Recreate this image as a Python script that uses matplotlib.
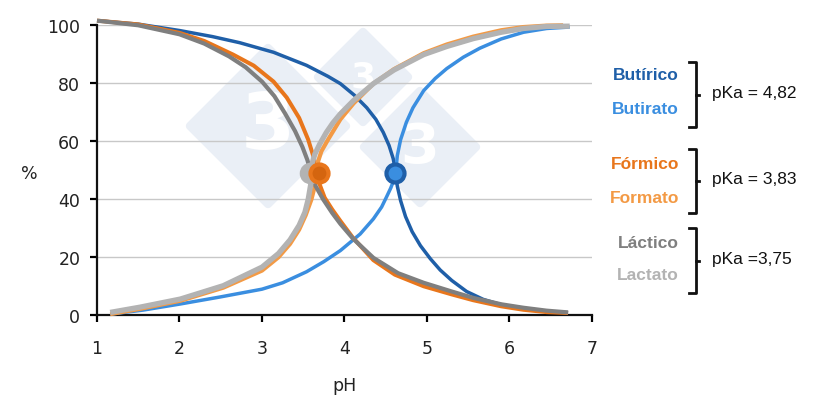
import matplotlib
matplotlib.use("Agg")
import matplotlib.pyplot as plt
from matplotlib.patches import Polygon

# curves (pH, %)
butirico_ph = [1.0, 1.5, 2.0, 2.4, 2.73, 3.14, 3.54, 3.8, 3.95, 4.12, 4.27, 4.38, 4.47,
               4.54, 4.59, 4.61, 4.62, 4.64, 4.68, 4.74, 4.82, 4.92, 5.04, 5.16, 5.3,
               5.48, 5.68, 5.88, 6.1, 6.29, 6.5, 6.71]
butirico_pct = [101.5, 100.3, 98.1, 96.0, 93.9, 90.6, 86.1, 82.3, 79.8, 75.8, 71.5, 67.5, 63.0,
                58.5, 54.0, 51.0, 49.0, 44.5, 39.5, 34.0, 28.8, 24.0, 19.5, 15.6, 12.0,
                8.2, 5.5, 3.8, 2.5, 1.8, 1.2, 0.9]

butirato_ph = [1.16, 1.56, 2.01, 2.49, 3.0, 3.25, 3.54, 3.75, 3.95, 4.19, 4.35, 4.45, 4.51,
               4.56, 4.59, 4.61, 4.62, 4.64, 4.68, 4.75, 4.83, 4.96, 5.1, 5.24, 5.44,
               5.64, 5.9, 6.17, 6.45, 6.73]
butirato_pct = [0.4, 1.8, 3.9, 6.3, 9.0, 11.2, 15.0, 18.5, 22.3, 28.0, 33.2, 37.3, 40.8,
                43.8, 46.0, 47.8, 49.0, 55.0, 60.5, 66.5, 71.5, 77.4, 81.6, 85.0, 88.9,
                92.0, 95.2, 97.5, 98.8, 99.3]

formico_ph = [1.0, 1.5, 2.0, 2.3, 2.65, 2.9, 3.14, 3.3, 3.45, 3.56, 3.62, 3.66, 3.67,
              3.7, 3.76, 3.85, 3.95, 4.1, 4.35, 4.61, 4.96, 5.3, 5.56, 5.9, 6.17, 6.45, 6.71]
formico_pct = [101.5, 100.2, 97.3, 94.5, 89.8, 86.0, 80.5, 75.0, 68.0, 60.5, 55.0, 50.5, 49.0,
               45.0, 40.5, 36.5, 32.5, 26.8, 19.0, 14.0, 10.0, 7.2, 5.2, 3.1, 1.9, 1.1, 0.8]

formato_ph = [1.16, 1.52, 2.01, 2.53, 3.0, 3.2, 3.34, 3.45, 3.53, 3.6, 3.64, 3.67,
              3.68, 3.72, 3.8, 3.95, 4.11, 4.35, 4.6, 4.96, 5.24, 5.56, 5.9, 6.17, 6.45, 6.65]
formato_pct = [0.4, 2.2, 5.0, 9.5, 15.4, 20.0, 24.6, 29.5, 34.5, 40.0, 44.5, 49.0,
               53.0, 56.5, 60.5, 67.5, 73.0, 79.8, 84.8, 90.3, 93.3, 96.0, 98.2, 99.3, 99.8, 99.9]

lactico_ph = [1.0, 1.5, 2.0, 2.3, 2.6, 2.8, 3.0, 3.15, 3.28, 3.4, 3.49, 3.55, 3.59, 3.6,
              3.65, 3.74, 3.85, 3.95, 4.1, 4.35, 4.65, 4.96, 5.3, 5.56, 5.9, 6.17, 6.45, 6.71]
lactico_pct = [101.5, 99.9, 96.8, 93.6, 89.2, 85.5, 80.5, 75.5, 69.5, 63.5, 58.0, 53.5, 49.5, 49.0,
               44.5, 40.0, 35.3, 31.5, 26.5, 19.8, 14.5, 11.2, 8.2, 6.0, 3.8, 2.6, 1.6, 1.0]

lactato_ph = [1.16, 1.52, 2.01, 2.53, 3.0, 3.2, 3.34, 3.45, 3.52, 3.56, 3.59, 3.6,
              3.61, 3.64, 3.7, 3.78, 3.86, 3.95, 4.11, 4.35, 4.6, 4.96, 5.24, 5.56, 5.9,
              6.17, 6.45, 6.73]
lactato_pct = [1.0, 2.8, 5.6, 10.2, 16.6, 21.3, 26.0, 31.0, 35.5, 40.0, 45.0, 49.0,
               52.5, 55.5, 59.0, 63.0, 66.3, 69.4, 74.0, 79.8, 84.5, 89.8, 92.6, 95.3, 97.5,
               98.8, 99.5, 99.6]

# pKa points (pH, %)
pka_ph = [3.58, 3.69, 4.61]
pka_pct = [49, 49, 49]

groups = [("Butírico", "Butirato", "pKa = 4,82"),
          ("Fórmico", "Formato", "pKa = 3,83"),
          ("Láctico", "Lactato", "pKa =3,75")]

c_but_d, c_but_l = "#1f5fa8", "#3a8ee0"
c_for_d, c_for_l = "#e8761c", "#f39a45"
c_lac_d, c_lac_l = "#7f7f7f", "#b3b3b3"

W, H = 820, 402
fig = plt.figure(figsize=(8.2, 4.02), dpi=100)
ax = fig.add_axes([97 / W, (H - 316.3) / H, 495 / W, 290.3 / H])
ax.patch.set_visible(False)


def fpx(x, y):
    return (x / W, 1 - y / H)


# faint logo watermark behind the plot
for cx, cy, hd, fs in [(363, 78, 45, 26), (268, 127, 78, 56), (420, 148, 56, 40)]:
    pts = [fpx(cx - hd, cy), fpx(cx, cy - hd), fpx(cx + hd, cy), fpx(cx, cy + hd)]
    fig.add_artist(Polygon(pts, closed=True, transform=fig.transFigure,
                           facecolor="#eaeff6", edgecolor="#eaeff6", lw=6,
                           joinstyle="round", zorder=-2))
    fig.text(cx / W, 1 - cy / H, "3", fontsize=fs, fontweight="bold", color="white",
             ha="center", va="center", zorder=-1)

line_kw = dict(clip_on=False, solid_capstyle="butt", solid_joinstyle="round")
ax.plot(butirico_ph, butirico_pct, color=c_but_d, lw=2.5, zorder=3, **line_kw)
ax.plot(butirato_ph, butirato_pct, color=c_but_l, lw=2.5, zorder=3, **line_kw)
ax.plot(formico_ph, formico_pct, color=c_for_d, lw=2.9, zorder=4, **line_kw)
ax.plot(formato_ph, formato_pct, color=c_for_l, lw=3.0, zorder=4, **line_kw)
ax.plot(lactico_ph, lactico_pct, color=c_lac_d, lw=3.0, zorder=5, **line_kw)
ax.plot(lactato_ph, lactato_pct, color=c_lac_l, lw=3.8, zorder=5, **line_kw)

ax.plot(pka_ph[0], pka_pct[0], "o", ms=13, mfc=c_lac_l, mec=c_lac_l, mew=2.5, zorder=6, clip_on=False)
ax.plot(pka_ph[1], pka_pct[1], "o", ms=13, mfc="#d4650f", mec=c_for_d, mew=3, zorder=7, clip_on=False)
ax.plot(pka_ph[2], pka_pct[2], "o", ms=13, mfc=c_but_l, mec=c_but_d, mew=3, zorder=7, clip_on=False)

ax.set_xlim(1, 7)
ax.set_ylim(0, 100)
ax.set_xticks(range(1, 8))
ax.set_yticks(range(0, 101, 20))
ax.grid(axis="y", color="#c8c8c8", lw=1)
ax.set_axisbelow(True)
for s in ["top", "right"]:
    ax.spines[s].set_visible(False)
for s in ["left", "bottom"]:
    ax.spines[s].set_linewidth(1.6)
    ax.spines[s].set_color("#111111")
ax.tick_params(axis="x", direction="out", length=5, width=1.6, pad=12,
               labelsize=12.5, labelcolor="#222222")
ax.tick_params(axis="y", direction="out", length=5, width=1.6, pad=7,
               labelsize=12.5, labelcolor="#222222")
ax.set_xlabel("pH", fontsize=12.5, color="#222222", labelpad=14)
fig.text(29 / W, 1 - 174 / H, "%", fontsize=12.5, color="#222222", ha="center", va="center")

# legend block on the right
label_colors = [(c_but_d, c_but_l), (c_for_d, c_for_l), (c_lac_d, c_lac_l)]
label_y = [(76, 110), (165, 199), (244, 275)]
brackets = [(63, 128), (150, 214), (229, 294)]
for (acid, salt, pka), (ca, cs), (ya, ys), (b0, b1) in zip(groups, label_colors, label_y, brackets):
    fig.text(679 / W, 1 - ya / H, acid, fontsize=12.5, fontweight="bold", color=ca,
             family="Liberation Sans", ha="right", va="center")
    fig.text(679 / W, 1 - ys / H, salt, fontsize=12.5, fontweight="bold", color=cs,
             family="Liberation Sans", ha="right", va="center")
    bx = 696
    xs = [bx - 7, bx, bx, bx - 7]
    ys_ = [b0, b0, b1, b1]
    fig.add_artist(plt.Line2D([x / W for x in xs], [1 - y / H for y in ys_],
                              transform=fig.transFigure, color="#111111", lw=2))
    mid = (b0 + b1) / 2
    fig.add_artist(plt.Line2D([bx / W, (bx + 3) / W], [1 - mid / H, 1 - mid / H],
                              transform=fig.transFigure, color="#111111", lw=2))
    fig.text(712 / W, 1 - (mid - 2) / H, pka, fontsize=12.5, color="#111111",
             family="Liberation Sans", ha="left", va="center")

fig.savefig("out.png", dpi=100)
